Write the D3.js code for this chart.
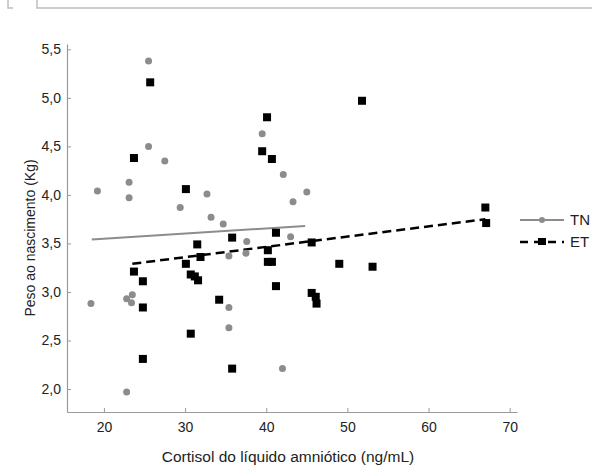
<!DOCTYPE html>
<html>
<head>
<meta charset="utf-8">
<script src="https://cdn.jsdelivr.net/npm/d3@7"></script>
<style>
  body { margin: 0; background: #fff; }
  svg { display: block; font-family: "Liberation Sans", Arial, sans-serif; }
</style>
</head>
<body>
<svg id="chart" width="592" height="476"></svg>
<script>
// ---- data ----
const tnX = [19.2, 23.1, 23.1, 25.5, 25.5, 27.5, 29.4, 32.7, 33.2, 34.7, 39.5, 42.1, 45.0, 43.3, 18.4, 22.8, 23.5, 23.4, 22.8, 35.4, 35.4, 35.4, 37.6, 37.5, 43.0, 42.0];
const tnY = [4.04, 4.13, 3.97, 5.38, 4.50, 4.35, 3.87, 4.01, 3.77, 3.70, 4.63, 4.21, 4.03, 3.93, 2.88, 2.93, 2.97, 2.89, 1.97, 3.37, 2.84, 2.63, 3.52, 3.40, 3.57, 2.21];
const etX = [25.7, 23.7, 30.1, 23.7, 24.8, 24.8, 24.8, 30.1, 31.5, 31.9, 30.7, 31.2, 31.6, 30.7, 34.2, 35.8, 35.8, 40.1, 39.5, 40.7, 51.8, 41.2, 40.2, 40.2, 40.7, 45.6, 49.0, 53.1, 41.2, 45.6, 46.1, 46.2, 67.0, 67.1];
const etY = [5.16, 4.38, 4.06, 3.21, 3.11, 2.84, 2.31, 3.29, 3.49, 3.36, 3.18, 3.16, 3.12, 2.57, 2.92, 3.56, 2.21, 4.80, 4.45, 4.37, 4.97, 3.61, 3.43, 3.31, 3.31, 3.51, 3.29, 3.26, 3.06, 2.99, 2.95, 2.88, 3.87, 3.71];
const tnLineX = [18.5, 44.8];
const tnLineY = [3.54, 3.68];
const etLineX = [23.5, 67.0];
const etLineY = [3.29, 3.75];
const xTicks = [20, 30, 40, 50, 60, 70];
const yTicks = [2.0, 2.5, 3.0, 3.5, 4.0, 4.5, 5.0, 5.5];
const seriesNames = ["TN", "ET"];
const xTitle = "Cortisol do líquido amniótico (ng/mL)";
const yTitle = "Peso ao nascimento (Kg)";

// ---- layout ----
const svg = d3.select("#chart");
const mLeft = 67, mRight = 517, mTop = 44, mBottom = 412;
const x = d3.scaleLinear().domain([15.45, 70.9]).range([mLeft, mRight]);
const y = d3.scaleLinear().domain([1.763, 5.555]).range([mBottom, mTop]);
const gray = "#8c8c8c";
const axisColor = "#9a9a9a";

// top frame fragments
svg.append("path").attr("d", "M37,0V8H592").attr("fill", "none").attr("stroke", "#bdbdbd").attr("stroke-width", 1.5);
svg.append("path").attr("d", "M8,0V8H13").attr("fill", "none").attr("stroke", "#bdbdbd").attr("stroke-width", 1.5);

// axes
const fmt = d => d3.format(".1f")(d).replace(".", ",");
const xAxis = svg.append("g").attr("transform", `translate(0,${mBottom})`)
  .call(d3.axisBottom(x).tickValues(xTicks).tickSizeInner(-4).tickSizeOuter(0).tickPadding(10));
const yAxis = svg.append("g").attr("transform", `translate(${mLeft},0)`)
  .call(d3.axisLeft(y).tickValues(yTicks).tickFormat(fmt).tickSizeInner(-4).tickSizeOuter(0).tickPadding(6));
[xAxis, yAxis].forEach(g => {
  g.select(".domain").attr("stroke", axisColor).attr("stroke-width", 1.2);
  g.selectAll(".tick line").attr("stroke", axisColor);
  g.selectAll(".tick text").attr("fill", "#222").style("font-size", "14px").style("font-family", "'Liberation Sans', Arial, sans-serif");
});

// titles
svg.append("text").attr("x", 288).attr("y", 462).attr("text-anchor", "middle")
  .style("font-size", "15.5px").attr("fill", "#222").text(xTitle);
svg.append("text").attr("transform", "translate(35,238) rotate(-90)").attr("text-anchor", "middle")
  .style("font-size", "14px").attr("fill", "#222").text(yTitle);

// regression lines
const line = d3.line().x(d => x(d[0])).y(d => y(d[1]));
svg.append("path").datum(d3.zip(tnLineX, tnLineY)).attr("d", line)
  .attr("fill", "none").attr("stroke", gray).attr("stroke-width", 2);
svg.append("path").datum(d3.zip(etLineX, etLineY)).attr("d", line)
  .attr("fill", "none").attr("stroke", "#000").attr("stroke-width", 2.5).attr("stroke-dasharray", "9,5");

// points
svg.append("g").selectAll("circle").data(d3.zip(tnX, tnY)).join("circle")
  .attr("cx", d => x(d[0])).attr("cy", d => y(d[1])).attr("r", 3.5).attr("fill", gray);
const s = 8;
svg.append("g").selectAll("rect").data(d3.zip(etX, etY)).join("rect")
  .attr("x", d => x(d[0]) - s / 2).attr("y", d => y(d[1]) - s / 2)
  .attr("width", s).attr("height", s).attr("fill", "#000");

// legend
const lg = svg.append("g");
lg.append("line").attr("x1", 520).attr("x2", 564).attr("y1", 220).attr("y2", 220).attr("stroke", gray).attr("stroke-width", 2);
lg.append("circle").attr("cx", 542).attr("cy", 220).attr("r", 3).attr("fill", gray);
lg.append("text").attr("x", 570).attr("y", 225).style("font-size", "15px").attr("fill", "#222").text(seriesNames[0]);
lg.append("line").attr("x1", 520).attr("x2", 564).attr("y1", 242).attr("y2", 242).attr("stroke", "#000").attr("stroke-width", 2.5).attr("stroke-dasharray", "8,6");
lg.append("rect").attr("x", 538).attr("y", 238).attr("width", 8).attr("height", 7).attr("fill", "#000");
lg.append("text").attr("x", 570).attr("y", 247).style("font-size", "15px").attr("fill", "#222").text(seriesNames[1]);
</script>
</body>
</html>
